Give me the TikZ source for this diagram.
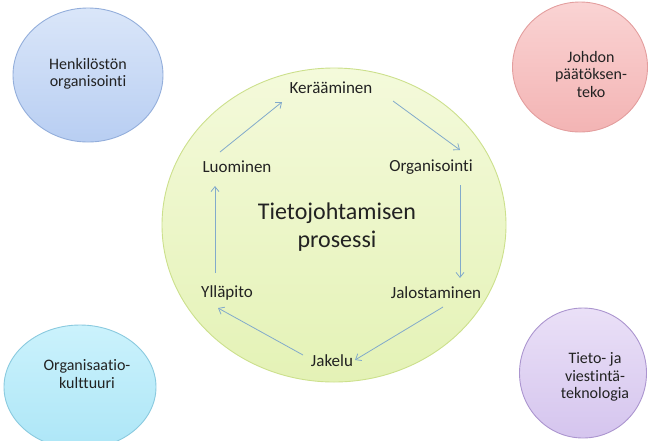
\documentclass[tikz,border=0pt]{standalone}
\usepackage{fontspec}
\setmainfont{Carlito}[Ligatures=CommonOff]
\usetikzlibrary{shapes.geometric,arrows.meta}

\definecolor{txt}{HTML}{222222}
\definecolor{flow}{HTML}{82AACB}
\definecolor{blueTop}{HTML}{DAE6F9}
\definecolor{blueBot}{HTML}{B8CEF2}
\definecolor{blueLine}{HTML}{93AEDB}
\definecolor{redTop}{HTML}{FAD3D3}
\definecolor{redBot}{HTML}{F3B4B4}
\definecolor{redLine}{HTML}{E39E9E}
\definecolor{cyanTop}{HTML}{CBF2FC}
\definecolor{cyanBot}{HTML}{ADE6F7}
\definecolor{cyanLine}{HTML}{8ACADF}
\definecolor{purpTop}{HTML}{EAE0F7}
\definecolor{purpBot}{HTML}{D5C5EE}
\definecolor{purpLine}{HTML}{AB95CF}
\definecolor{greenTop}{HTML}{F4FADB}
\definecolor{greenBot}{HTML}{E4F2B6}
\definecolor{greenLine}{HTML}{CCE08C}

\tikzset{
  bubble/.style={ellipse, inner sep=0pt, line width=0.9pt},
  sidetext/.style={align=center, text=txt, font=\fontsize{16}{17.5}\selectfont},
  stage/.style={text=txt, font=\fontsize{17}{20}\selectfont, inner sep=1pt},
  title/.style={align=center, text=txt, font=\fontsize{24}{28}\selectfont},
  flowarrow/.style={draw=flow, line width=0.8pt, -{Straight Barb[length=5pt,width=8pt]}}
}

\begin{document}
\begin{tikzpicture}[x=1pt,y=-1pt]
\useasboundingbox (0,0) rectangle (652,440);

% surrounding factors
\node[bubble, minimum width=150pt, minimum height=134pt, top color=blueTop, bottom color=blueBot, draw=blueLine] (hr) at (88,75) {};
\node[bubble, minimum width=135pt, minimum height=130pt, top color=redTop, bottom color=redBot, draw=redLine] (mgmt) at (580,67) {};
\node[bubble, minimum width=152pt, minimum height=124pt, top color=cyanTop, bottom color=cyanBot, draw=cyanLine] (cult) at (80,387) {};
\node[bubble, minimum width=127pt, minimum height=130pt, top color=purpTop, bottom color=purpBot, draw=purpLine] (ict) at (583,373) {};

\node[sidetext] (hrtext) at (88,74) {Henkilöstön\\organisointi};
\node[sidetext] (mgmttext) at (591,74) {Johdon\\päätöksen-\\teko};
\node[sidetext] (culttext) at (87,374) {Organisaatio-\\kulttuuri};
\node[sidetext] (icttext) at (595,377) {Tieto- ja\\viestintä-\\teknologia};

% the knowledge management process
\node[bubble, minimum width=344pt, minimum height=314pt, top color=greenTop, bottom color=greenBot, draw=greenLine] (proc) at (334,225) {};
\node[title] (proctext) at (337,227) {Tietojohtamisen\\prosessi};

\node[stage] (ker) at (331,88) {Kerääminen};
\node[stage] (org) at (431,167) {Organisointi};
\node[stage] (jal) at (436,293) {Jalostaminen};
\node[stage] (jak) at (332,361) {Jakelu};
\node[stage] (yll) at (227,293) {Ylläpito};
\node[stage] (luo) at (237,167) {Luominen};

% arrow end points of the cycle
\coordinate (luoOut) at (220,152);  \coordinate (kerIn) at (282,102);
\coordinate (kerOut) at (393,101);  \coordinate (orgIn) at (460,150);
\coordinate (orgOut) at (460,185);  \coordinate (jalIn) at (460,278);
\coordinate (jalOut) at (443,307);  \coordinate (jakIn) at (355,360);
\coordinate (jakOut) at (303,355);  \coordinate (yllIn) at (218,308);
\coordinate (yllOut) at (215,273);  \coordinate (luoIn) at (215,186);

\draw[flowarrow] (luoOut) -- (kerIn);
\draw[flowarrow] (kerOut) -- (orgIn);
\draw[flowarrow] (orgOut) -- (jalIn);
\draw[flowarrow] (jalOut) -- (jakIn);
\draw[flowarrow] (jakOut) -- (yllIn);
\draw[flowarrow] (yllOut) -- (luoIn);
\end{tikzpicture}
\end{document}
